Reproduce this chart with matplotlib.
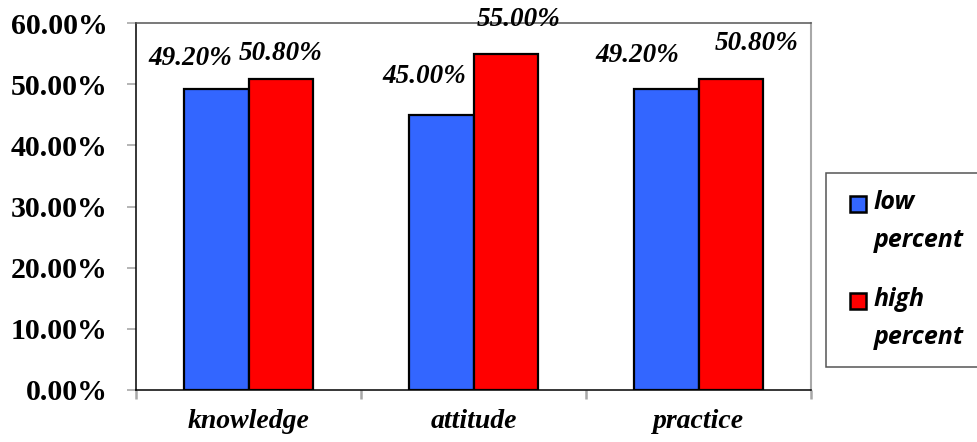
import matplotlib
matplotlib.use("Agg")
import matplotlib.pyplot as plt
from matplotlib.patches import Rectangle
from matplotlib.ticker import FuncFormatter, FixedLocator

# Data
categories = ["knowledge", "attitude", "practice"]
low_percent = [49.2, 45.0, 49.2]
high_percent = [50.8, 55.0, 50.8]
series_names = ["low\npercent", "high\npercent"]
y_ticks = [0, 10, 20, 30, 40, 50, 60]

# Hand-placed label offsets (x in category units, y in percent points)
low_label_offsets = [(-0.117, 5.0), (-0.077, 6.3), (-0.13, 5.5)]
high_label_offsets = [(0.0, 4.2), (0.057, 5.6), (0.113, 5.8)]

BLUE = "#3366FF"
RED = "#FF0000"
W, H = 977, 442

fig = plt.figure(figsize=(W / 100, H / 100), dpi=100)
ax = fig.add_axes([136 / W, 52 / H, 675 / W, 367 / H])

width = 0.287
x = list(range(len(categories)))
x_low = [i - width / 2 for i in x]
x_high = [i + width / 2 for i in x]
colors = [BLUE, RED]

ax.bar(x_low, low_percent, width, color=BLUE, edgecolor="black", linewidth=1.6,
       label=series_names[0], zorder=3)
ax.bar(x_high, high_percent, width, color=RED, edgecolor="black", linewidth=1.6,
       label=series_names[1], zorder=3)

label_font = dict(family="Liberation Serif", weight="bold", style="italic", size=19.5)
for xs, vals, offs in ((x_low, low_percent, low_label_offsets),
                       (x_high, high_percent, high_label_offsets)):
    for xi, v, (dx, dy) in zip(xs, vals, offs):
        ax.text(xi + dx, v + dy, f"{v:.2f}%", ha="center", va="center",
                clip_on=False, zorder=4, **label_font)

ax.set_xlim(-0.5, 2.5)
ax.set_ylim(0, 60)

ax.yaxis.set_major_locator(FixedLocator(y_ticks))
ax.yaxis.set_major_formatter(FuncFormatter(lambda v, p: f"{v:.2f}%"))
ax.tick_params(axis="y", which="major", length=6.5, width=1.1, color="#a0a0a0",
               pad=14)
for t in ax.get_yticklabels():
    t.set_fontfamily("Liberation Serif")
    t.set_fontweight("bold")
    t.set_fontsize(21.5)

ax.set_xticks(x)
ax.set_xticklabels(categories)
ax.set_xticks([-0.5, 0.5, 1.5, 2.5], minor=True)
ax.tick_params(axis="x", which="major", length=0, pad=14)
ax.tick_params(axis="x", which="minor", length=6.5, width=1.8, color="#a8a8a8")
for t in ax.get_xticklabels():
    t.set_fontfamily("Liberation Serif")
    t.set_fontweight("bold")
    t.set_fontstyle("italic")
    t.set_fontsize(20)

ax.spines["left"].set_color("black")
ax.spines["left"].set_linewidth(1.1)
ax.spines["bottom"].set_color("black")
ax.spines["bottom"].set_linewidth(1.1)
ax.spines["top"].set_color("#555555")
ax.spines["top"].set_linewidth(1.1)
ax.spines["right"].set_color("#a8a8a8")
ax.spines["right"].set_linewidth(1.5)

# Legend box with two-line entries
def fx(px):
    return px / W


def fy(py):
    return 1 - py / H


fig.patches.append(Rectangle((fx(826), fy(367)), fx(985) - fx(826), fy(173) - fy(367),
                             transform=fig.transFigure, facecolor="white",
                             edgecolor="#555555", linewidth=1.1))
legend_font = dict(family="Open Sans", weight="bold", style="italic", size=18)
entry_tops = [196, 293]
for top, name, col in zip(entry_tops, series_names, colors):
    fig.patches.append(Rectangle((fx(850), fy(top + 16)), fx(866) - fx(850),
                                 fy(top) - fy(top + 16), transform=fig.transFigure,
                                 facecolor=col, edgecolor="black", linewidth=1.8))
    first, second = name.split("\n")
    fig.text(fx(874), fy(top + 7), first, ha="left", va="center", **legend_font)
    fig.text(fx(874), fy(top + 45), second, ha="left", va="center", **legend_font)

fig.savefig("out.png", dpi=100)
